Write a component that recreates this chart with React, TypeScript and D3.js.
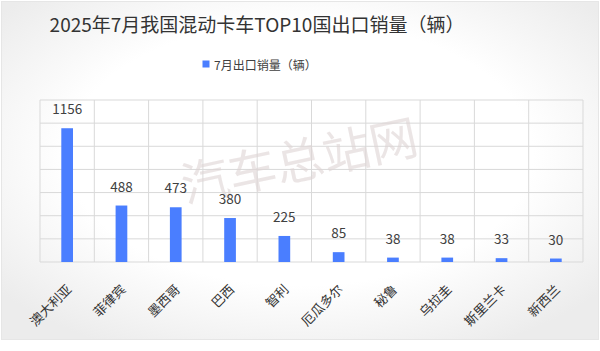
import React from "react";
import * as d3 from "d3";

const categories = ["澳大利亚", "菲律宾", "墨西哥", "巴西", "智利", "厄瓜多尔", "秘鲁", "乌拉圭", "斯里兰卡", "新西兰"];
const values = [1156, 488, 473, 380, 225, 85, 38, 38, 33, 30];
const yTicks = [0, 200, 400, 600, 800, 1000, 1200, 1400];
const title = "2025年7月我国混动卡车TOP10国出口销量（辆）";
const seriesName = "7月出口销量（辆）";
const watermark = "汽车总站网";

const W = 600;
const H = 351;
const margin = { left: 40, right: 17, top: 100, bottom: 89 };
const FONT = "'Noto Sans CJK SC', 'Noto Sans', sans-serif";

export default function App() {
  const x = d3
    .scaleBand<string>()
    .domain(categories)
    .range([margin.left, W - margin.right]);
  const y = d3
    .scaleLinear()
    .domain([0, 1400])
    .range([H - margin.bottom, margin.top]);
  const barW = 11.7;
  const x0 = margin.left;
  const x1 = W - margin.right;
  const y0 = y(0);
  const bands = categories.map((c) => x(c) as number).concat([x1]);

  return (
    <svg
      width={W}
      height={H}
      style={{ position: "absolute", left: 0, top: 0 }}
      fontFamily={FONT}
    >
      <defs>
        <radialGradient id="bg" cx="50%" cy="45%" r="65%">
          <stop offset="0%" stopColor="#ffffff" />
          <stop offset="60%" stopColor="#ffffff" />
          <stop offset="100%" stopColor="#ececec" />
        </radialGradient>
      </defs>
      <rect x={0} y={0} width={W} height={H} fill="#ffffff" />
      <rect x={1.5} y={1.5} width={597} height={338} fill="url(#bg)" stroke="#e6e6e6" />
      <text x={257} y={32} textAnchor="middle" fontSize={19} fill="#333333">
        {title}
      </text>
      <rect x={202.5} y={60.5} width={7} height={7} fill="#4a7eff" />
      <text x={214} y={70} fontSize={12} fill="#404040">
        {seriesName}
      </text>
      {yTicks.map((t) => (
        <line key={"h" + t} x1={x0} x2={x1} y1={y(t)} y2={y(t)} stroke="#d9d9d9" strokeWidth={1} />
      ))}
      {bands.map((b, i) => (
        <line key={"v" + i} x1={b} x2={b} y1={y(1400)} y2={y0} stroke="#d9d9d9" strokeWidth={1} />
      ))}
      <text
        x={303}
        y={178}
        fontSize={48}
        fill="#ddd3d3"
        fillOpacity={0.6}
        textAnchor="middle"
        transform="rotate(-12 303 178)"
      >
        {watermark}
      </text>
      {categories.map((c, i) => {
        const cx = (x(c) as number) + x.bandwidth() / 2;
        return (
          <g key={c}>
            <rect x={cx - barW / 2} y={y(values[i])} width={barW} height={y0 - y(values[i])} fill="#4a7eff" />
            <text x={cx} y={y(values[i]) - 14} textAnchor="middle" fontSize={13.5} fill="#404040">
              {values[i]}
            </text>
            <text
              transform={`translate(${cx + 2},${y0 + 25}) rotate(-45)`}
              textAnchor="end"
              dy="0.35em"
              fontSize={13}
              fill="#333333"
            >
              {c}
            </text>
          </g>
        );
      })}
    </svg>
  );
}
